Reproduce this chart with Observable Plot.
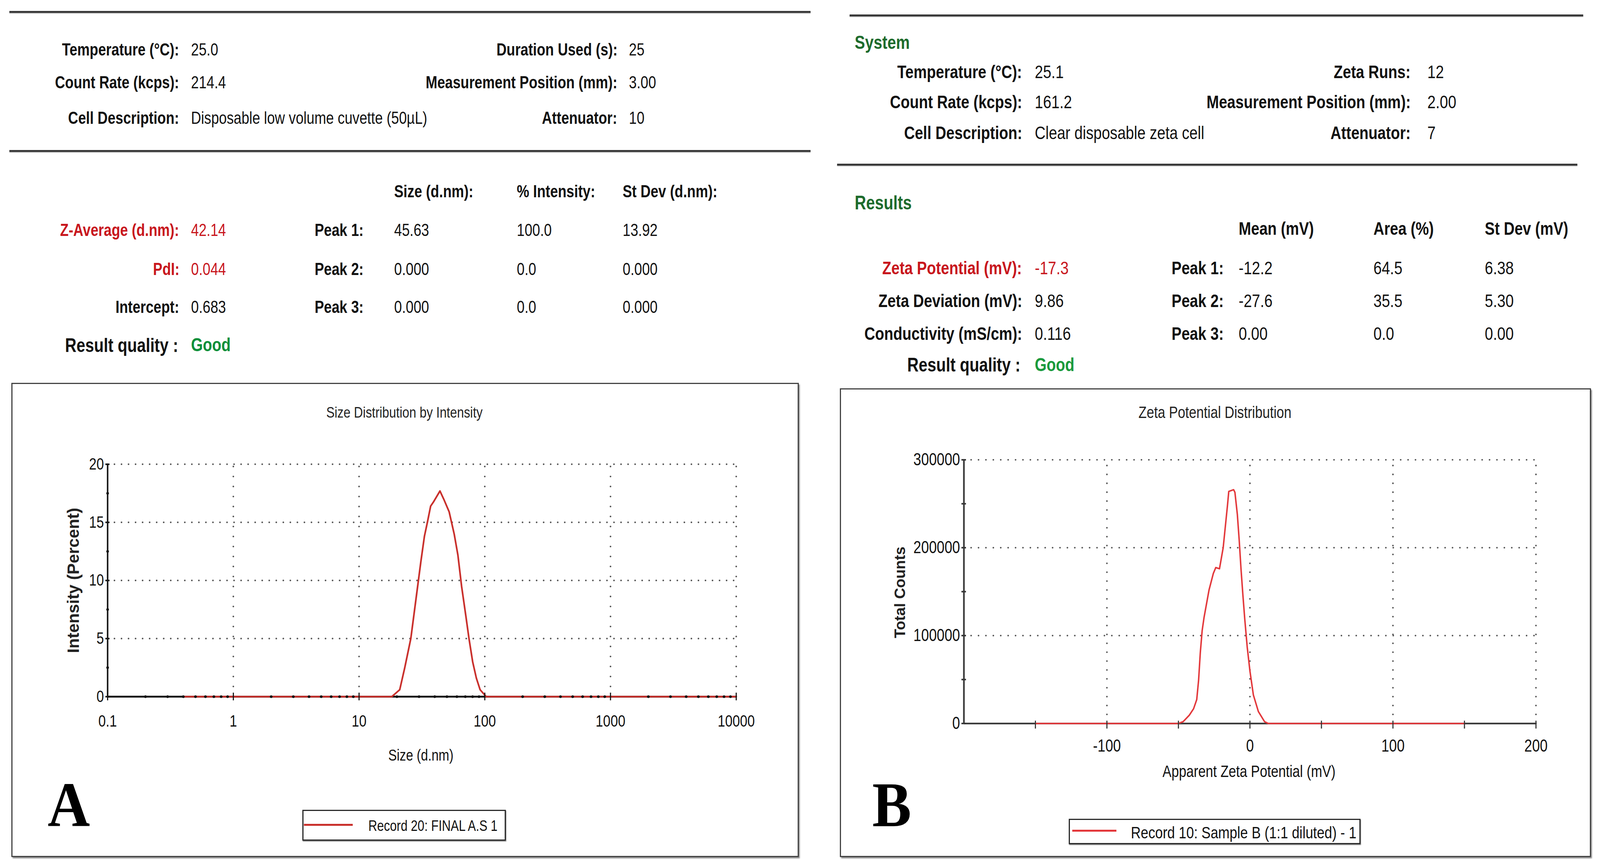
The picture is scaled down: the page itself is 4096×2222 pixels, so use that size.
<!DOCTYPE html>
<html><head><meta charset="utf-8">
<script src="https://cdn.jsdelivr.net/npm/d3@7"></script>
<script src="https://cdn.jsdelivr.net/npm/@observablehq/plot@0.6"></script>
<style>
html,body{margin:0;padding:0;background:#fff;}
#page{position:relative;width:4096px;height:2222px;overflow:hidden;background:#fff;}
.t{position:absolute;white-space:nowrap;line-height:1;}
svg{overflow:visible;max-width:none !important;}
</style></head><body><div id="page"></div>
<script>
// ---------------- DATA ----------------
// Panel A: size distribution by intensity
const sizeNm       = [0.4, 18.2, 21.06, 23.1, 25.8, 28.6, 31.0, 33.1, 35.1, 37.1, 39.3, 44.0, 47.6, 52.1, 57.1, 61.1, 65.4, 70.8, 74.9, 80.1, 85.7, 91.8, 102.7, 10000];
const intensityPct = [0,   0,    0.6,   2.5,  5.0,  8.7,  11.6, 13.8, 15.1, 16.4, 16.8, 17.7, 16.9, 15.9, 14.0, 12.2, 9.5,  6.9,  5.0,  3.0,  1.6,  0.6,  0,     0];
const sizeTicks      = [0.1, 1, 10, 100, 1000, 10000];
const sizeMinorTicks = [0.2,0.3,0.4,0.5,0.6,0.7,0.8,0.9, 2,3,4,5,6,7,8,9, 20,30,40,50,60,70,80,90, 200,300,400,500,600,700,800,900, 2000,3000,4000,5000,6000,7000,8000,9000];
const intensityTicks = [0, 5, 10, 15, 20];
const intensityMinor = [2.5, 7.5, 12.5, 17.5];

// Panel B: zeta potential distribution
const zetaMV      = [-150, -50, -46.7, -42.4, -39.4, -37.2, -35.9, -34.7, -33.4, -32.1, -28.6, -25.6, -23.9, -21.3, -18.7, -15.7, -14.8, -11.4, -10.5, -8.8, -7.5, -6.2, -4.9, -3.6, -1.9, 0, 2.4, 5.9, 10.2, 12.8, 150];
const totalCounts = [0, 0, 2100, 9400, 16800, 27200, 49200, 80700, 105800, 120500, 151900, 170700, 177400, 176000, 200100, 248200, 264000, 266000, 263000, 237800, 208400, 174900, 145600, 118400, 86900, 59700, 32500, 13600, 2100, 0, 0];
const zetaTicks      = [-100, 0, 100, 200];
const zetaTickMarks  = [-150, -100, -50, 0, 50, 100, 150, 200];
const countTicks     = [0, 100000, 200000, 300000];
const countTickMarks = [0, 50000, 100000, 150000, 200000, 250000, 300000];

// Text tables
const sysALabelsL = ["Temperature (°C):", "Count Rate (kcps):", "Cell Description:"];
const sysAValuesL = ["25.0", "214.4", "Disposable low volume cuvette (50µL)"];
const sysALabelsR = ["Duration Used (s):", "Measurement Position (mm):", "Attenuator:"];
const sysAValuesR = ["25", "3.00", "10"];
const resAHeaders = ["Size (d.nm):", "% Intensity:", "St Dev (d.nm):"];
const resALabels  = ["Z-Average (d.nm):", "PdI:", "Intercept:"];
const resAValues  = ["42.14", "0.044", "0.683"];
const peakLabels  = ["Peak 1:", "Peak 2:", "Peak 3:"];
const peakASize   = ["45.63", "0.000", "0.000"];
const peakAInt    = ["100.0", "0.0", "0.0"];
const peakAStDev  = ["13.92", "0.000", "0.000"];

const sysBLabelsL = ["Temperature (°C):", "Count Rate (kcps):", "Cell Description:"];
const sysBValuesL = ["25.1", "161.2", "Clear disposable zeta cell"];
const sysBLabelsR = ["Zeta Runs:", "Measurement Position (mm):", "Attenuator:"];
const sysBValuesR = ["12", "2.00", "7"];
const resBHeaders = ["Mean (mV)", "Area (%)", "St Dev (mV)"];
const resBLabels  = ["Zeta Potential (mV):", "Zeta Deviation (mV):", "Conductivity (mS/cm):"];
const resBValues  = ["-17.3", "9.86", "0.116"];
const peakBMean   = ["-12.2", "-27.6", "0.00"];
const peakBArea   = ["64.5", "35.5", "0.0"];
const peakBStDev  = ["6.38", "5.30", "0.00"];

// ---------------- LAYOUT ----------------
const K = 0.948, PAGE_W = 4096, SQ = 0.82;
const FN = "'Liberation Sans Narrow','Arial Narrow','Liberation Sans',Arial,sans-serif";
const FS = "'Liberation Sans',Arial,Helvetica,sans-serif";
const FSERIF = "'Liberation Serif','Times New Roman',serif";
const RED = "#c8161d", GREEN = "#0d8f3a", DKGREEN = "#1d6b2c";
const page = document.getElementById("page");

function txt(str, x, y, o = {}) {
  const size = o.size || 46, sx = o.sx || SQ, anchor = o.anchor || "start";
  const el = document.createElement("div");
  el.className = "t"; el.textContent = str;
  Object.assign(el.style, {fontFamily: o.family || FN, fontSize: size * K + "px",
    fontWeight: o.weight || "normal", color: o.color || "#111"});
  const top = o.baseline ? (y - (o.asc || 0.8465) * size) : (y - 0.4885 * size);
  el.style.top = top * K + "px";
  if (anchor === "start") { el.style.left = x * K + "px"; el.style.transformOrigin = "0 50%"; el.style.transform = `scaleX(${sx})`; }
  else if (anchor === "end") { el.style.right = (PAGE_W - x * K) + "px"; el.style.transformOrigin = "100% 50%"; el.style.transform = `scaleX(${sx})`; }
  else { el.style.left = x * K + "px"; el.style.transformOrigin = "50% 50%"; el.style.transform = `translateX(-50%) scaleX(${sx})`; }
  page.appendChild(el); return el;
}
function rect(x1, y1, x2, y2, style) {
  const d = document.createElement("div");
  Object.assign(d.style, {position: "absolute", left: x1 * K + "px", top: y1 * K + "px",
    width: (x2 - x1) * K + "px", height: (y2 - y1) * K + "px", boxSizing: "border-box"}, style);
  page.appendChild(d); return d;
}
function place(svg, x, y) {
  const d = document.createElement("div");
  Object.assign(d.style, {position: "absolute", left: x * K + "px", top: y * K + "px"});
  d.appendChild(svg); page.appendChild(d);
}
// condense the SVG text horizontally (narrow face is not installed)
function squish(svg, f, skip) {
  svg.querySelectorAll("text").forEach(t => {
    if (skip.includes(t.textContent)) return;
    const L = t.getComputedTextLength();
    if (L > 0) { t.setAttribute("textLength", L * f); t.setAttribute("lengthAdjust", "spacingAndGlyphs"); }
  });
}
const ruleStyle = {background: "#3a3a3a", boxShadow: `0 ${1.5*K}px ${2*K}px #aaa`};

// ---------- Panel A tables ----------
rect(25, 29.5, 2189, 34.5, ruleStyle);
rect(25, 405.5, 2189, 410.5, ruleStyle);
const rowsA = [134, 223, 319];
rowsA.forEach((y, i) => {
  txt(sysALabelsL[i], 484, y, {anchor: "end", weight: "bold", size: 46});
  txt(sysAValuesL[i], 516, y, {size: 46});
  txt(sysALabelsR[i], 1667, y, {anchor: "end", weight: "bold", size: 46});
  txt(sysAValuesR[i], 1698, y, {size: 46});
});
const colsA = [1064, 1396, 1681];
resAHeaders.forEach((h, j) => txt(h, colsA[j], 517, {weight: "bold", size: 46}));
const resRowsA = [622, 727, 829];
resRowsA.forEach((y, i) => {
  const c = i < 2 ? RED : "#111";
  txt(resALabels[i], 484, y, {anchor: "end", weight: "bold", size: 46, color: c});
  txt(resAValues[i], 516, y, {size: 46, color: c});
  txt(peakLabels[i], 982, y, {anchor: "end", weight: "bold", size: 46});
  txt(peakASize[i], colsA[0], y, {size: 46});
  txt(peakAInt[i], colsA[1], y, {size: 46});
  txt(peakAStDev[i], colsA[2], y, {size: 46});
});
txt("Result quality :", 481, 931, {anchor: "end", weight: "bold", size: 52});
txt("Good", 516, 931, {weight: "bold", size: 50, color: GREEN});

// ---------- Panel B tables ----------
rect(2294.5, 39, 4275, 44, ruleStyle);
rect(2261, 442.5, 4259, 447.5, ruleStyle);
txt("System", 2308, 114, {weight: "bold", size: 51, color: DKGREEN});
const rowsB = [194, 274.5, 358];
rowsB.forEach((y, i) => {
  txt(sysBLabelsL[i], 2760, y, {anchor: "end", weight: "bold", size: 49});
  txt(sysBValuesL[i], 2794, y, {size: 49});
  txt(sysBLabelsR[i], 3809, y, {anchor: "end", weight: "bold", size: 49});
  txt(sysBValuesR[i], 3854, y, {size: 49});
});
txt("Results", 2308, 546, {weight: "bold", size: 52, color: DKGREEN});
const colsB = [3345, 3709, 4009];
resBHeaders.forEach((h, j) => txt(h, colsB[j], 617, {weight: "bold", size: 49}));
const resRowsB = [723, 812, 901];
resRowsB.forEach((y, i) => {
  const c = i < 1 ? RED : "#111";
  txt(resBLabels[i], 2760, y, {anchor: "end", weight: "bold", size: 49, color: c});
  txt(resBValues[i], 2794, y, {size: 49, color: c});
  txt(peakLabels[i], 3304, y, {anchor: "end", weight: "bold", size: 49});
  txt(peakBMean[i], colsB[0], y, {size: 49});
  txt(peakBArea[i], colsB[1], y, {size: 49});
  txt(peakBStDev[i], colsB[2], y, {size: 49});
});
txt("Result quality :", 2756, 984, {anchor: "end", weight: "bold", size: 52});
txt("Good", 2794, 984, {weight: "bold", size: 50, color: "#1a9a3c"});

// ---------- Chart A ----------
const dataA = sizeNm.map((s, i) => ({size: s, intensity: intensityPct[i]}));
const boxA = {x1: 31, y1: 1034, x2: 2157, y2: 2314.5};
const pA = {l: 290.5, r: 1988, t: 1253.4, b: 1881};
const midAx = (pA.l + pA.r) / 2, midAy = (pA.t + pA.b) / 2;
const dotH = {stroke: "#555", strokeWidth: 4.5 * K, strokeLinecap: "round", strokeDasharray: `0 ${19 * K}`};
const dotV = {stroke: "#555", strokeWidth: 4.5 * K, strokeLinecap: "round", strokeDasharray: `0 ${27 * K}`};
const chartA = Plot.plot({
  width: (boxA.x2 - boxA.x1) * K, height: (boxA.y2 - boxA.y1) * K,
  marginLeft: (pA.l - boxA.x1) * K, marginRight: (boxA.x2 - pA.r) * K,
  marginTop: (pA.t - boxA.y1) * K, marginBottom: (boxA.y2 - pA.b) * K,
  style: {fontFamily: FN, fontSize: 44 * K + "px", color: "#111", background: "transparent", overflow: "visible"},
  x: {type: "log", domain: [0.1, 10000], ticks: sizeTicks, tickFormat: d => String(d), tickSize: 0, tickPadding: 49 * K, label: null},
  y: {domain: [0, 20], ticks: intensityTicks, tickFormat: d => String(d), tickSize: 0, tickPadding: 10 * K, label: null},
  marks: [
    Plot.ruleY(intensityTicks.filter(d => d > 0), dotH),
    Plot.ruleX(sizeTicks.filter(d => d > 0.1), {y1: 0, y2: 20, ...dotV}),
    Plot.ruleX([0.1], {y1: 0, y2: 20, stroke: "#111", strokeWidth: 4 * K}),
    Plot.ruleY([0], {x1: 0.1, x2: 10000, stroke: "#111", strokeWidth: 5 * K}),
    Plot.line(dataA, {x: "size", y: "intensity", stroke: "#c9302c", strokeWidth: 4.5 * K, strokeLinejoin: "round"}),
    Plot.dot(sizeMinorTicks, {x: d => d, y: 0, r: 3.6 * K, fill: "#111", stroke: null}),
    Plot.dot(intensityMinor, {x: 0.1, y: d => d, r: 3.6 * K, fill: "#111", stroke: null}),
    Plot.ruleX(sizeTicks, {y1: -0.33, y2: 0.33, stroke: "#111", strokeWidth: 3 * K}),
    Plot.ruleY(intensityTicks, {x1: 0.0963, x2: 0.1039, stroke: "#111", strokeWidth: 4 * K}),
    Plot.text(["Size Distribution by Intensity"], {frameAnchor: "top", lineAnchor: "middle", dx: (1092 - midAx) * K, dy: (1114 - pA.t) * K, fontSize: 41 * K, fontFamily: FN, fill: "#222"}),
    Plot.text(["Size (d.nm)"], {frameAnchor: "bottom", lineAnchor: "middle", dx: (1136.5 - midAx) * K, dy: (2040 - pA.b) * K, fontSize: 42 * K, fontFamily: FN, fill: "#111"}),
    Plot.text(["Intensity (Percent)"], {frameAnchor: "left", textAnchor: "middle", lineAnchor: "middle", rotate: -90, dx: (199 - pA.l) * K, dy: (1567 - midAy) * K, fontSize: 45 * K, fontFamily: FS, fontWeight: "bold", fill: "#222"})
  ]
});
place(chartA, boxA.x1, boxA.y1);
squish(chartA, SQ, ["Intensity (Percent)"]);
rect(boxA.x1, boxA.y1, boxA.x2, boxA.y2, {border: `${3.5 * K}px solid #444`, boxShadow: `${3 * K}px ${4 * K}px ${3 * K}px #888`});
txt("A", 129, 2232, {family: FSERIF, weight: "bold", size: 172, baseline: true, asc: 0.8375, color: "#000", sx: 0.92});
rect(816, 2187, 1366, 2270, {border: `${4 * K}px solid #2a2a2a`, background: "#fff", boxShadow: `${1 * K}px ${2 * K}px ${2 * K}px #777`});
rect(821, 2225, 953, 2229.5, {background: "#c9302c"});
txt("Record 20: FINAL A.S 1", 995, 2230, {size: 40});

// ---------- Chart B ----------
const dataB = zetaMV.map((z, i) => ({zeta: z, counts: totalCounts[i]}));
const boxB = {x1: 2267.5, y1: 1048.4, x2: 4296.6, y2: 2314.5};
const pB = {l: 2602, r: 4146.8, t: 1241, b: 1953};
const midBx = (pB.l + pB.r) / 2, midBy = (pB.t + pB.b) / 2;
const dotHB = {stroke: "#555", strokeWidth: 4.5 * K, strokeLinecap: "round", strokeDasharray: `0 ${20 * K}`};
const dotVB = {stroke: "#555", strokeWidth: 4.5 * K, strokeLinecap: "round", strokeDasharray: `0 ${24 * K}`};
const chartB = Plot.plot({
  width: (boxB.x2 - boxB.x1) * K, height: (boxB.y2 - boxB.y1) * K,
  marginLeft: (pB.l - boxB.x1) * K, marginRight: (boxB.x2 - pB.r) * K,
  marginTop: (pB.t - boxB.y1) * K, marginBottom: (boxB.y2 - pB.b) * K,
  style: {fontFamily: FN, fontSize: 46 * K + "px", color: "#111", background: "transparent", overflow: "visible"},
  x: {domain: [-200, 200], ticks: zetaTicks, tickFormat: d => String(d), tickSize: 0, tickPadding: 43.5 * K, label: null},
  y: {domain: [0, 300000], ticks: countTicks, tickFormat: d => String(d), tickSize: 0, tickPadding: 10.5 * K, label: null},
  marks: [
    Plot.ruleY(countTicks.filter(d => d > 0), dotHB),
    Plot.ruleX(zetaTicks, {y1: 0, y2: 300000, ...dotVB}),
    Plot.ruleX([-200], {y1: 0, y2: 300000, stroke: "#3a3a3a", strokeWidth: 4.5 * K}),
    Plot.ruleY([0], {x1: -200, x2: 200, stroke: "#3a3a3a", strokeWidth: 4.5 * K}),
    Plot.line(dataB, {x: "zeta", y: "counts", stroke: "#e3383b", strokeWidth: 4 * K, strokeLinejoin: "round"}),
    Plot.ruleX(zetaTickMarks, {y1: -6000, y2: 3000, stroke: "#333", strokeWidth: 3 * K}),
    Plot.ruleY(countTickMarks, {x1: -201.6, x2: -198.4, stroke: "#333", strokeWidth: 4 * K}),
    Plot.text(["Zeta Potential Distribution"], {frameAnchor: "top", lineAnchor: "middle", dx: (3280 - midBx) * K, dy: (1113.7 - pB.t) * K, fontSize: 44 * K, fontFamily: FN, fill: "#222"}),
    Plot.text(["Apparent Zeta Potential (mV)"], {frameAnchor: "bottom", lineAnchor: "middle", dx: (3372 - midBx) * K, dy: (2083 - pB.b) * K, fontSize: 44 * K, fontFamily: FN, fill: "#111"}),
    Plot.text(["Total Counts"], {frameAnchor: "left", textAnchor: "middle", lineAnchor: "middle", rotate: -90, dx: (2429.5 - pB.l) * K, dy: (1599 - midBy) * K, fontSize: 41 * K, fontFamily: FS, fontWeight: "bold", fill: "#222"})
  ]
});
place(chartB, boxB.x1, boxB.y1);
squish(chartB, SQ, ["Total Counts"]);
rect(boxB.x1, boxB.y1, boxB.x2, boxB.y2, {border: `${3.5 * K}px solid #444`, boxShadow: `${3 * K}px ${4 * K}px ${3 * K}px #888`});
txt("B", 2355, 2232, {family: FSERIF, weight: "bold", size: 172, baseline: true, asc: 0.8375, color: "#000", sx: 0.92});
rect(2886, 2211, 3674, 2280, {border: `${4 * K}px solid #2a2a2a`, background: "#fff", boxShadow: `${1 * K}px ${2 * K}px ${2 * K}px #777`});
rect(2896, 2241, 3015, 2245.5, {background: "#e3383b"});
txt("Record 10: Sample B (1:1 diluted) - 1", 3054, 2248, {size: 45});
</script></body></html>
